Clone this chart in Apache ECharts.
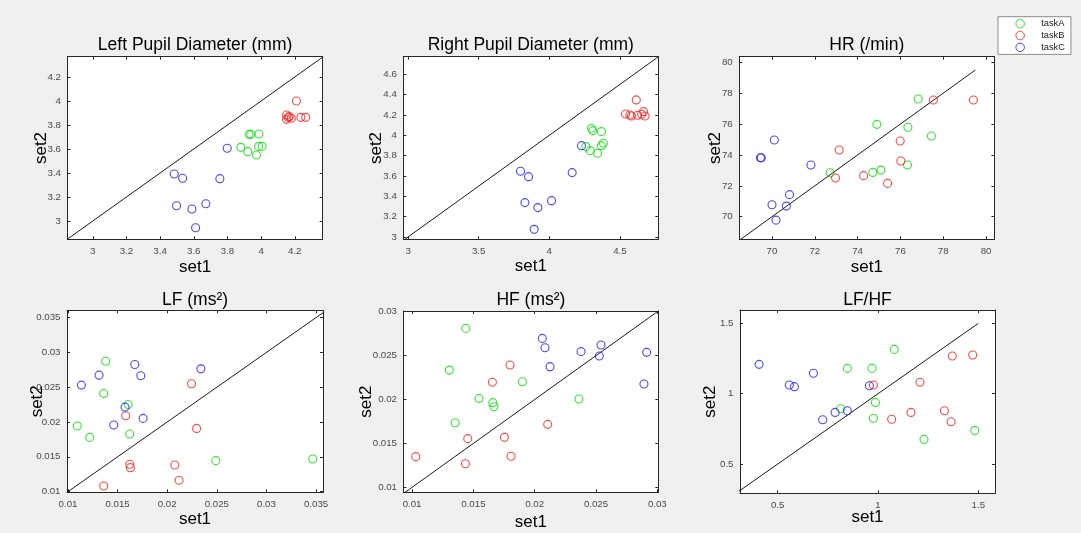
<!DOCTYPE html>
<html>
<head>
<meta charset="utf-8">
<script src="https://cdn.jsdelivr.net/npm/echarts@6/dist/echarts.min.js"></script>
<style>
html,body{margin:0;padding:0;background:#f0f0f0;}
#chart{width:1081px;height:533px;}
</style>
</head>
<body>
<div id="chart"></div>
<script>
// ---------------- data ----------------
const categories = ['taskA', 'taskB', 'taskC'];
const panelTitles = ['Left Pupil Diameter (mm)', 'Right Pupil Diameter (mm)', 'HR (/min)', 'LF (ms²)', 'HF (ms²)', 'LF/HF'];
const xAxisName = 'set1';
const yAxisName = 'set2';

// Left pupil diameter [set1, set2]
const leftPupilA = [[3.88,3.614],[3.929,3.722],[3.939,3.722],[3.987,3.725],[3.921,3.578],[3.973,3.55],[3.985,3.622],[4.006,3.622]];
const leftPupilB = [[4.21,4.0],[4.151,3.883],[4.151,3.847],[4.167,3.87],[4.18,3.856],[4.162,3.862],[4.236,3.864],[4.265,3.864]];
const leftPupilC = [[3.484,3.392],[3.534,3.356],[3.498,3.128],[3.589,3.1],[3.672,3.144],[3.611,2.944],[3.755,3.353],[3.799,3.606]];

// Right pupil diameter
const rightPupilA = [[4.299,4.069],[4.308,4.046],[4.369,4.036],[4.259,3.889],[4.29,3.849],[4.342,3.823],[4.369,3.898],[4.383,3.921]];
const rightPupilB = [[4.616,4.348],[4.54,4.21],[4.571,4.2],[4.582,4.19],[4.625,4.197],[4.654,4.207],[4.668,4.233],[4.678,4.19]];
const rightPupilC = [[4.228,3.898],[3.796,3.646],[3.853,3.593],[4.162,3.633],[3.827,3.338],[3.919,3.289],[4.016,3.357],[3.893,3.075]];

// HR
const hrA = [[76.83,77.62],[74.9,75.98],[76.35,75.79],[77.45,75.23],[76.33,73.35],[75.09,73.02],[74.71,72.87],[72.72,72.85]];
const hrB = [[77.54,77.56],[79.41,77.56],[75.99,74.9],[76.02,73.61],[73.14,74.32],[72.97,72.51],[74.28,72.66],[75.4,72.16]];
const hrC = [[69.5,73.82],[69.46,73.82],[70.11,74.97],[71.82,73.35],[70.82,71.43],[70.0,70.78],[70.67,70.69],[70.19,69.78]];

// LF
const lfA = [[0.0138,0.02874],[0.0136,0.0241],[0.01094,0.01942],[0.01219,0.01779],[0.01606,0.02252],[0.01622,0.01827],[0.0249,0.01445],[0.03467,0.01468]];
const lfB = [[0.02245,0.02549],[0.01582,0.0209],[0.02296,0.01908],[0.01622,0.01392],[0.01629,0.01344],[0.02077,0.01382],[0.0212,0.01163],[0.0136,0.01081]];
const lfC = [[0.01673,0.02826],[0.01313,0.02673],[0.01135,0.0253],[0.01734,0.02664],[0.02339,0.02764],[0.01575,0.02214],[0.01757,0.02052],[0.01461,0.01956]];

// HF
const hfA = [[0.01438,0.0281],[0.01304,0.02335],[0.01546,0.02013],[0.01658,0.01964],[0.01668,0.01918],[0.01351,0.01736],[0.019,0.02203],[0.02361,0.02006]];
const hfB = [[0.01799,0.02393],[0.01655,0.02196],[0.02106,0.01717],[0.01454,0.01554],[0.01753,0.01569],[0.0103,0.01349],[0.01435,0.01269],[0.01807,0.01353]];
const hfC = [[0.02062,0.02696],[0.02084,0.0259],[0.02125,0.02374],[0.02378,0.02545],[0.02541,0.0262],[0.02527,0.02495],[0.02913,0.02537],[0.02891,0.02176]];

// LF/HF
const ratioA = [[1.081,1.315],[0.847,1.18],[0.97,1.18],[0.814,0.893],[0.987,0.938],[0.977,0.825],[1.229,0.675],[1.482,0.739]];
const ratioB = [[0.977,1.062],[1.209,1.081],[1.37,1.268],[1.472,1.275],[1.164,0.867],[1.331,0.879],[1.364,0.801],[1.068,0.818]];
const ratioC = [[0.407,1.2085],[0.558,1.062],[0.583,1.05],[0.678,1.145],[0.957,1.057],[0.724,0.815],[0.786,0.867],[0.847,0.879]];

const panelSeries = [
  [leftPupilA, leftPupilB, leftPupilC],
  [rightPupilA, rightPupilB, rightPupilC],
  [hrA, hrB, hrC],
  [lfA, lfB, lfC],
  [hfA, hfB, hfC],
  [ratioA, ratioB, ratioC]
];

// identity reference lines (set1 = set2)
const refLines = [
  [[2.85,2.85],[4.367,4.367]],
  [[2.975,2.975],[4.772,4.772]],
  [[68.5,68.5],[79.5,79.5]],
  [[0.0099,0.0099],[0.0358,0.0358]],
  [[0.0094,0.0094],[0.03008,0.03008]],
  [[0.3,0.3],[1.5,1.5]]
];

// axis extents
const xRanges = [[2.85,4.366],[2.966,4.772],[68.47,80.39],[0.0099,0.0357],[0.0093,0.03008],[0.312,1.583]];
const yRanges = [[2.848,4.369],[2.977,4.773],[68.54,80.36],[0.0099,0.03605],[0.00943,0.03008],[0.292,1.595]];

// tick labels
const xTicks = [
  [3,3.2,3.4,3.6,3.8,4,4.2],
  [3,3.5,4,4.5],
  [70,72,74,76,78,80],
  [0.01,0.015,0.02,0.025,0.03,0.035],
  [0.01,0.015,0.02,0.025,0.03],
  [0.5,1,1.5]
];
const yTicks = [
  [3,3.2,3.4,3.6,3.8,4,4.2],
  [3,3.2,3.4,3.6,3.8,4,4.2,4.4,4.6],
  [70,72,74,76,78,80],
  [0.01,0.015,0.02,0.025,0.03,0.035],
  [0.01,0.015,0.02,0.025,0.03],
  [0.5,1,1.5]
];

// ---------------- layout & style ----------------
const colors = ['#00e000', '#ff1c1c', '#1c1cff'];
const FONT = '"Liberation Sans", Arial, Helvetica, sans-serif';
const grids = [
  {left: 67.5, top: 56.7, width: 255.2, height: 182.6},
  {left: 403.3, top: 56.7, width: 255.0, height: 182.6},
  {left: 739.2, top: 56.7, width: 255.2, height: 182.6},
  {left: 67.0, top: 310.3, width: 256.0, height: 182.0},
  {left: 403.5, top: 311.0, width: 254.8, height: 181.3},
  {left: 740.0, top: 310.0, width: 255.0, height: 183.3}
];
const titleTops = [36, 36, 36, 291, 291, 291];
const xNameGaps = [20, 19, 19.5, 18.5, 22, 16];
const yNameGaps = [17.5, 18, 15.5, 21.5, 28.5, 21.5];

const axisLineStyle = {color: '#262626', width: 1};
const labelStyle = {fontSize: 9.7, color: '#4a4a4a', fontFamily: FONT};

const option = {
  backgroundColor: '#f0f0f0',
  animation: false,
  textStyle: {fontFamily: FONT},
  title: [],
  grid: [],
  xAxis: [],
  yAxis: [],
  series: [],
  legend: {
    data: categories,
    orient: 'vertical',
    left: 998,
    top: 16.7,
    padding: [2.3, 6, 2.3, 17.4],
    itemWidth: 32,
    itemHeight: 8.5,
    itemGap: 2.3,
    backgroundColor: '#ffffff',
    borderColor: '#8c8c8c',
    borderWidth: 1,
    borderRadius: 0,
    itemStyle: {borderWidth: 1},
    textStyle: {fontSize: 9.3, color: '#1a1a1a', fontFamily: FONT}
  }
};

for (let p = 0; p < 6; p++) {
  const g = grids[p];
  option.grid.push(Object.assign({outerBoundsMode: 'none', containLabel: false, show: true, backgroundColor: '#ffffff', borderWidth: 0}, g));
  option.title.push({
    text: panelTitles[p],
    left: g.left + g.width / 2,
    top: titleTops[p],
    padding: 0,
    textAlign: 'center',
    textStyle: {fontSize: 17.5, fontWeight: 'normal', color: '#000', fontFamily: FONT}
  });
  const xr = xRanges[p], yr = yRanges[p];
  // bottom x axis
  option.xAxis.push({
    type: 'value', gridIndex: p, position: 'bottom', min: xr[0], max: xr[1],
    name: xAxisName, nameLocation: 'middle', nameGap: xNameGaps[p], nameMoveOverlap: false,
    nameTextStyle: {fontSize: 17, color: '#000', fontFamily: FONT},
    axisLine: {show: true, onZero: false, lineStyle: axisLineStyle},
    axisTick: {show: true, inside: true, length: 3, customValues: xTicks[p], lineStyle: axisLineStyle},
    axisLabel: {show: true, customValues: xTicks[p], margin: 7, ...labelStyle},
    splitLine: {show: false}
  });
  // top x axis (box)
  option.xAxis.push({
    type: 'value', gridIndex: p, position: 'top', min: xr[0], max: xr[1],
    axisLine: {show: true, onZero: false, lineStyle: axisLineStyle},
    axisTick: {show: true, inside: true, length: 3, customValues: xTicks[p], lineStyle: axisLineStyle},
    axisLabel: {show: false},
    splitLine: {show: false}
  });
  // left y axis
  option.yAxis.push({
    type: 'value', gridIndex: p, position: 'left', min: yr[0], max: yr[1],
    name: yAxisName, nameLocation: 'middle', nameGap: yNameGaps[p], nameRotate: 90, nameMoveOverlap: false,
    nameTextStyle: {fontSize: 17, color: '#000', fontFamily: FONT},
    axisLine: {show: true, onZero: false, lineStyle: axisLineStyle},
    axisTick: {show: true, inside: true, length: 3, customValues: yTicks[p], lineStyle: axisLineStyle},
    axisLabel: {show: true, customValues: yTicks[p], margin: 6.5, ...labelStyle},
    splitLine: {show: false}
  });
  // right y axis (box)
  option.yAxis.push({
    type: 'value', gridIndex: p, position: 'right', min: yr[0], max: yr[1],
    axisLine: {show: true, onZero: false, lineStyle: axisLineStyle},
    axisTick: {show: true, inside: true, length: 3, customValues: yTicks[p], lineStyle: axisLineStyle},
    axisLabel: {show: false},
    splitLine: {show: false}
  });
  // reference line
  option.series.push({
    type: 'line', xAxisIndex: 2 * p, yAxisIndex: 2 * p, data: refLines[p],
    symbol: 'none', silent: true, z: 1,
    lineStyle: {color: '#1a1a1a', width: 1}
  });
  // scatter series
  for (let s = 0; s < 3; s++) {
    option.series.push({
      type: 'scatter', name: categories[s], xAxisIndex: 2 * p, yAxisIndex: 2 * p,
      data: panelSeries[p][s], symbol: 'circle', symbolSize: 8, z: 3,
      itemStyle: {color: 'rgba(255,255,255,0)', borderColor: colors[s], borderWidth: 1.1}
    });
  }
}

const chart = echarts.init(document.getElementById('chart'), null, {renderer: 'canvas'});
chart.setOption(option);
</script>
</body>
</html>
